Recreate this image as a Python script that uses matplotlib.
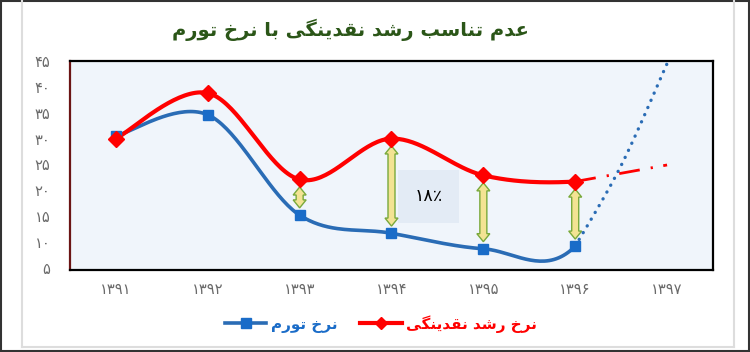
import numpy as np
import matplotlib
matplotlib.use("Agg")
from matplotlib import pyplot
from matplotlib.lines import Line2D
from matplotlib.patches import Polygon, Rectangle
from matplotlib.transforms import IdentityTransform

# داده‌ها
years = [1391, 1392, 1393, 1394, 1395, 1396, 1397]
year_labels = ["۱۳۹۱", "۱۳۹۲", "۱۳۹۳", "۱۳۹۴", "۱۳۹۵", "۱۳۹۶", "۱۳۹۷"]
inflation = [30.5, 34.6, 15.2, 11.7, 8.7, 9.2, 44.5]      # نرخ تورم (آخری پیش‌بینی)
liquidity = [30.0, 38.8, 22.1, 30.0, 22.9, 21.7, 24.9]    # نرخ رشد نقدینگی
inflation_trend_x = [1396, 1396.5, 1397]
inflation_trend_y = [9.2, 24.8, 44.5]
y_ticks = [5, 10, 15, 20, 25, 30, 35, 40, 45]
y_tick_labels = ["۵", "۱۰", "۱۵", "۲۰", "۲۵", "۳۰", "۳۵", "۴۰", "۴۵"]
arrow_years = [1393, 1394, 1395, 1396]
gap_label = "۱۸٪"

title_txt = "عدم تناسب رشد نقدینگی با نرخ تورم"
inflation_name = "نرخ تورم"
liquidity_name = "نرخ رشد نقدینگی"

# شکل‌دهی حروف فارسی (matplotlib اتصال حروف را انجام نمی‌دهد)
FORMS = {
    'ا': (0xFE8D, 0xFE8E, None, None),
    'ب': (0xFE8F, 0xFE90, 0xFE91, 0xFE92),
    'ت': (0xFE95, 0xFE96, 0xFE97, 0xFE98),
    'خ': (0xFEA5, 0xFEA6, 0xFEA7, 0xFEA8),
    'د': (0xFEA9, 0xFEAA, None, None),
    'ر': (0xFEAD, 0xFEAE, None, None),
    'س': (0xFEB1, 0xFEB2, 0xFEB3, 0xFEB4),
    'ش': (0xFEB5, 0xFEB6, 0xFEB7, 0xFEB8),
    'ع': (0xFEC9, 0xFECA, 0xFECB, 0xFECC),
    'ق': (0xFED5, 0xFED6, 0xFED7, 0xFED8),
    'م': (0xFEE1, 0xFEE2, 0xFEE3, 0xFEE4),
    'ن': (0xFEE5, 0xFEE6, 0xFEE7, 0xFEE8),
    'و': (0xFEED, 0xFEEE, None, None),
    'ی': (0xFBFC, 0xFBFD, 0xFBFE, 0xFBFF),
    'گ': (0xFB92, 0xFB93, 0xFB94, 0xFB95),
}


def shape(txt):
    out = []
    for i, ch in enumerate(txt):
        if ch not in FORMS:
            out.append(ch)
            continue
        prev = txt[i - 1] if i > 0 else ''
        nxt = txt[i + 1] if i + 1 < len(txt) else ''
        join_prev = prev in FORMS and FORMS[prev][2] is not None
        join_next = FORMS[ch][2] is not None and nxt in FORMS
        iso, fin, ini, med = FORMS[ch]
        if join_prev and join_next:
            c = med
        elif join_prev:
            c = fin
        elif join_next:
            c = ini
        else:
            c = iso
        out.append(chr(c))
    return ''.join(out)[::-1]


def smooth(xs, ys, n=40):
    # منحنی هموار شبیه اکسل (بزیه با نقاط کنترل کاتمول-رام)
    xs = np.asarray(xs, float)
    ys = np.asarray(ys, float)
    px = np.concatenate([[xs[0]], xs, [xs[-1]]])
    py = np.concatenate([[ys[0]], ys, [ys[-1]]])
    segs = []
    t = np.linspace(0, 1, n)[:, None]
    for i in range(1, len(px) - 2):
        p0 = np.array([px[i], py[i]])
        p3 = np.array([px[i + 1], py[i + 1]])
        c1 = p0 + (p3 - np.array([px[i - 1], py[i - 1]])) / 6
        c2 = p3 - (np.array([px[i + 2], py[i + 2]]) - p0) / 6
        b = ((1 - t) ** 3) * p0 + 3 * ((1 - t) ** 2) * t * c1 + 3 * (1 - t) * t ** 2 * c2 + t ** 3 * p3
        segs.append(b)
    return segs


pyplot.rcParams['font.family'] = ['DejaVu Sans']

blue = '#2a6cb5'
blue_mk = '#1a6cc8'
red = '#ff0000'

fig = pyplot.figure(figsize=(7.5, 3.52), dpi=100)
ax = fig.add_axes([70 / 750, 1 - 270 / 352, 643 / 750, 209 / 352])
ax.set_facecolor('#f0f5fb')
ax.set_xlim(1390.5, 1397.5)
ax.set_ylim(4.6, 44.8)

# خطوط اصلی
bsegs = smooth(years, inflation)
rsegs = smooth(years, liquidity)
solid_b = np.vstack(bsegs[:5])
solid_r = np.vstack(rsegs[:5])
ax.plot(solid_r[:, 0], solid_r[:, 1], color=red, lw=3.0, zorder=4, solid_capstyle='round')
ax.plot(solid_b[:, 0], solid_b[:, 1], color=blue, lw=2.6, zorder=3, solid_capstyle='round')

# روندها
tb = np.vstack(smooth(inflation_trend_x, inflation_trend_y))
ax.plot(tb[:, 0], tb[:, 1], color=blue, lw=2.4, zorder=3,
        linestyle=(0, (0.05, 2.3)), dash_capstyle='round')
ax.plot(years[5:], liquidity[5:], color=red, lw=2.0, zorder=3,
        linestyle=(0, (7.5, 4.0, 0.8, 3.8)))

# نشانگرها
ax.plot(years[:6], inflation[:6], 's', color=blue_mk, ms=7, zorder=5)
ax.plot(years[:6], liquidity[:6], 'D', color=red, ms=8, zorder=6)

# فلش‌های دوسر
fig.canvas.draw()
for yr in arrow_years:
    i = years.index(yr)
    cx, top = ax.transData.transform((yr, liquidity[i]))
    _, bot = ax.transData.transform((yr, inflation[i]))
    top -= 8
    bot += 7
    hw, sw, hl = 6.5, 3.5, 8
    pts = [(cx, top), (cx + hw, top - hl), (cx + sw, top - hl), (cx + sw, bot + hl),
           (cx + hw, bot + hl), (cx, bot), (cx - hw, bot + hl), (cx - sw, bot + hl),
           (cx - sw, top - hl), (cx - hw, top - hl)]
    ax.add_patch(Polygon(pts, closed=True, transform=IdentityTransform(),
                         facecolor='#f3e393', edgecolor='#79a93b', lw=1.0, zorder=2))

# کادر متن ۱۸٪
ax.add_patch(Rectangle((1394.07, 13.65), 0.67, 10.2, facecolor='#e3ebf5',
                       edgecolor='none', zorder=1))
ax.text(1394.405, 19.0, gap_label, ha='center', va='center', fontsize=12.5, color='black', zorder=7)

# محورها
ax.set_xticks(years)
ax.set_xticklabels(year_labels)
ax.set_yticks(y_ticks)
ax.set_yticklabels(y_tick_labels)
ax.tick_params(axis='both', length=0, labelsize=10.5, colors='#6a6a6a')
ax.tick_params(axis='y', pad=14)
ax.tick_params(axis='x', pad=9)
for s in ['top', 'right', 'bottom']:
    ax.spines[s].set_color('black')
    ax.spines[s].set_linewidth(1.6)
ax.spines['left'].set_color('#6b1515')
ax.spines['left'].set_linewidth(1.6)

# عنوان
fig.text(350 / 750, 1 - 30 / 352, shape(title_txt), ha='center', va='center',
         fontsize=14, fontweight='bold', color='#2b5618')

# راهنما
handles = [Line2D([], [], color=blue, lw=2.6, marker='s', ms=7, mfc=blue_mk, mec=blue_mk),
           Line2D([], [], color=red, lw=3.0, marker='D', ms=6, mfc=red, mec=red)]
fig.legend(handles, [shape(inflation_name), shape(liquidity_name)], ncol=2,
           loc='center', bbox_to_anchor=(381 / 750, 1 - 324 / 352), frameon=False,
           prop={'size': 11, 'weight': 'bold'}, labelcolor=[blue_mk, red],
           handlelength=2.7, handletextpad=0.3, columnspacing=1.5, numpoints=1)

# قاب‌های بیرونی
fig.add_artist(Rectangle((0.001, 0.002), 0.997, 0.995, transform=fig.transFigure,
                         fill=False, edgecolor='#333333', lw=1.5))
for xx in [22 / 750, 734 / 750]:
    fig.add_artist(Line2D([xx, xx], [5 / 352, 1], transform=fig.transFigure,
                          color='#dddddd', lw=1.5))
fig.add_artist(Line2D([22 / 750, 734 / 750], [5 / 352, 5 / 352], transform=fig.transFigure,
                      color='#dddddd', lw=1.5))

fig.savefig('out.png', dpi=100)
